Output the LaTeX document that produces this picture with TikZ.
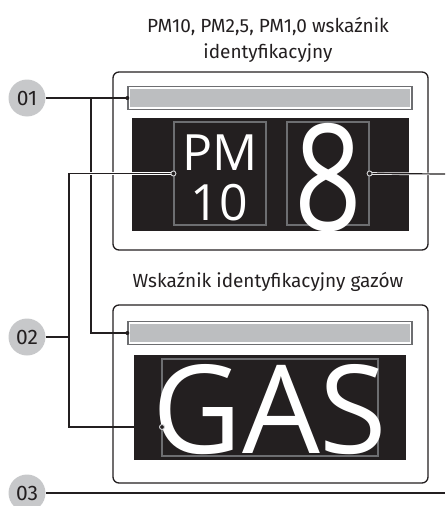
\documentclass[tikz,border=0pt]{standalone}
\usepackage{fontspec}
\setmainfont{Fira Sans}
\newfontfamily\thinfont{Open Sans}
\usetikzlibrary{positioning}
\definecolor{panelblack}{HTML}{231F20}
\definecolor{bargray}{HTML}{BCBEC0}
\definecolor{edgegray}{HTML}{6D6E71}
\definecolor{badgegray}{HTML}{C7C8CA}
\definecolor{ringgray}{HTML}{D1D2D4}
\tikzset{
  frame/.style={draw=panelblack, line width=1.3pt, rounded corners=6pt},
  bar/.style={draw=edgegray, line width=1.3pt, fill=white, inner sep=0pt},
  cell/.style={draw=edgegray, line width=1.2pt, inner sep=0pt},
  badge/.style={circle, fill=badgegray, minimum size=37pt, inner sep=0pt, text=panelblack, font=\fontsize{21}{21}\selectfont},
  conn/.style={draw=panelblack, line width=1.2pt, preaction={draw=white, line width=2.6pt}},
  pin/.style={draw=ringgray, fill=panelblack, line width=0.9pt},
  heading/.style={anchor=base, text=panelblack, font=\fontsize{19}{19}\selectfont},
  glyph/.style={anchor=base, text=white, inner sep=0pt}
}
\begin{document}
\begin{tikzpicture}[x=1pt,y=-1pt]
\useasboundingbox (0,0) rectangle (445,506);

% upper display
\node[heading] (t1) at (268,32) {PM10, PM2,5, PM1,0 wskaźnik};
\node[heading] (t1b) at (268,58) {identyfikacyjny};
\draw[frame] (113,72) rectangle (428,250);
\node[bar, minimum width=284pt, minimum height=23pt] (bar1) at (270,98) {};
\fill[bargray] ([shift={(3,3)}]bar1.north west) rectangle ([shift={(-3,-3)}]bar1.south east);
\fill[panelblack] (132,118) rectangle (409,231);
\node[cell, minimum width=92pt, minimum height=103pt] (pmcell) at (220,173.5) {};
\node[cell, minimum width=82pt, minimum height=103pt] (digitcell) at (328,173.5) {};
\node[glyph, font=\thinfont\fontsize{50}{50}\selectfont] (pmtext) at (220,170) {PM};
\node[glyph, font=\thinfont\fontsize{50}{50}\selectfont] (numtext) at (219,220) {10};
\node[glyph, font=\thinfont\fontsize{148}{148}\selectfont, xscale=0.8] (digit) at (328,230) {8};

% lower display
\node[heading] (t2) at (268,287) {Wskaźnik identyfikacyjny gazów};
\draw[frame] (113,305) rectangle (428,483);
\node[bar, minimum width=284pt, minimum height=23pt] (bar2) at (270,333) {};
\fill[bargray] ([shift={(3,3)}]bar2.north west) rectangle ([shift={(-3,-3)}]bar2.south east);
\fill[panelblack] (134,355) rectangle (406,460);
\node[cell, minimum width=216pt, minimum height=97pt] (gascell) at (270,407.5) {};
\node[glyph, font=\thinfont\fontsize{123}{123}\selectfont] (gastext) at (270,453) {GAS};

% callouts
\node[badge] (b01) at (27,98) {01};
\node[badge] (b02) at (27,337) {02};
\node[badge] (b03) at (27,493) {03};
\coordinate (j01) at (91,98);
\coordinate (j02) at (69,337);
\coordinate (gaspin) at (162,427);
\coordinate (r8) at (445,174);
\coordinate (r03) at (445,493);

\draw[conn] (b01) -- (bar1.west);
\draw[conn] (j01) |- (bar2.west);
\draw[conn] (b02) -- (j02);
\draw[conn] (pmcell.west) -| (j02) |- (gaspin);
\draw[conn] (digitcell.east) -- (r8);
\draw[conn] (b03) -- (r03);

\fill[panelblack] (bar1.west) circle (2pt);
\fill[panelblack] (bar2.west) circle (2pt);
\draw[pin] (pmcell.west) circle (2.5pt);
\draw[pin] (digitcell.east) circle (2.5pt);
\draw[pin] (gaspin) circle (2.5pt);
\end{tikzpicture}
\end{document}
